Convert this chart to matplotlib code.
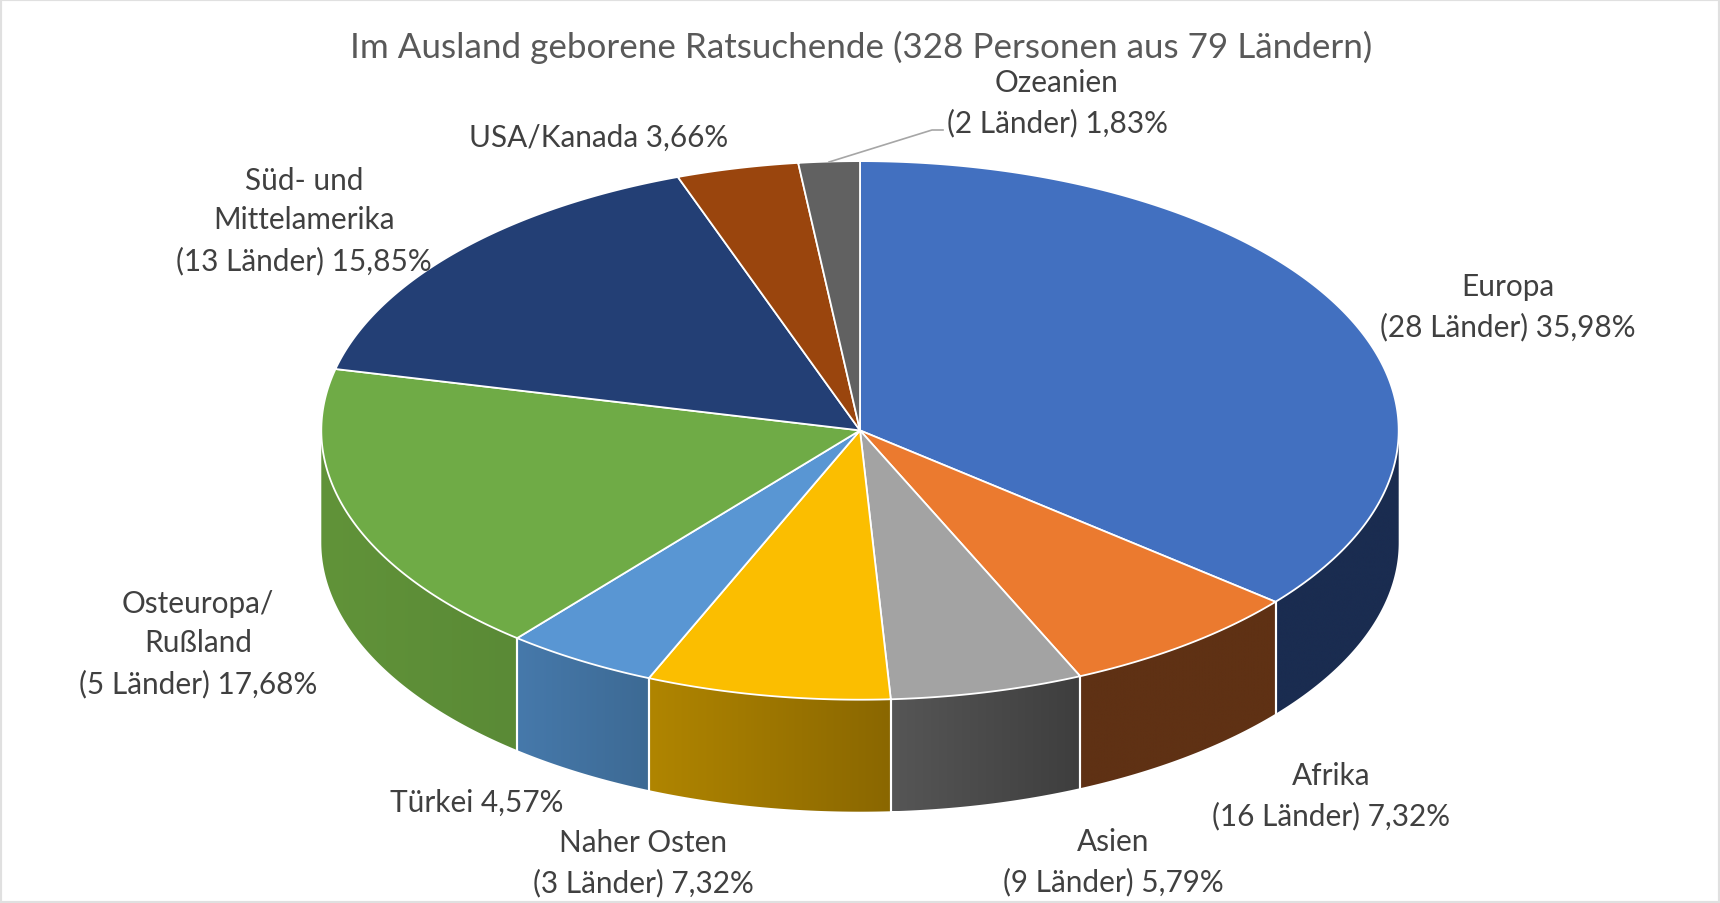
"""Im Ausland geborene Ratsuchende - Excel style 3D pie, drawn by hand in pixel space."""
import matplotlib
matplotlib.use("Agg")
import matplotlib.pyplot as plt
import numpy as np
from matplotlib.colors import LinearSegmentedColormap
from matplotlib.patches import Polygon, Rectangle

regions = ["Europa", "Afrika", "Asien", "Naher Osten", "Türkei", "Osteuropa/Rußland",
           "Süd- und Mittelamerika", "USA/Kanada", "Ozeanien"]
shares = [35.98, 7.32, 5.79, 7.32, 4.57, 17.68, 15.85, 3.66, 1.83]
labels = ["Europa\n(28 Länder) 35,98%", "Afrika\n(16 Länder) 7,32%", "Asien\n(9 Länder) 5,79%",
          "Naher Osten\n(3 Länder) 7,32%", "Türkei 4,57%", "Osteuropa/\nRußland\n(5 Länder) 17,68%",
          "Süd- und\nMittelamerika\n(13 Länder) 15,85%", "USA/Kanada 3,66%", "Ozeanien\n(2 Länder) 1,83%"]
title = "Im Ausland geborene Ratsuchende (328 Personen aus 79 Ländern)"

top_colors = ["#4270C0", "#EB7A2F", "#A3A3A3", "#FBBE00", "#5996D3", "#6FAB46",
              "#233F75", "#9A450D", "#616161"]
wall_left = ["#1A2C50", "#5F3114", "#565656", "#B08500", "#4679AB", "#619339",
             "#264478", "#9E480E", "#636363"]
wall_right = ["#1A2C50", "#5F3114", "#3E3E3E", "#8A6700", "#3D6A94", "#5A8A36",
              "#264478", "#9E480E", "#636363"]
label_xy = [(1508, 307), (1331, 796), (1113, 862), (643, 863), (477, 803),
            (198, 644), (304, 221), (599, 138), (1057, 103)]

W, H = 1720, 904
CX, CY, RX, RY, DEPTH = 860, 431.4, 538.7, 269.3, 112
TEXT = "#404040"

plt.rcParams["font.family"] = ["Lato", "DejaVu Sans"]
fig = plt.figure(figsize=(W / 100, H / 100), dpi=100)
ax = fig.add_axes([0, 0, 1, 1])


def rim(t, drop=0.0):
    return np.column_stack([CX + RX * np.sin(t), CY - RY * np.cos(t) + drop])


edges = np.radians(np.concatenate([[0], np.cumsum(shares)]) * 3.6)

# side walls first, only the front half of the cake shows
for i in range(len(shares)):
    a, b = max(edges[i], np.pi / 2), min(edges[i + 1], 3 * np.pi / 2)
    if a >= b:
        continue
    t = np.linspace(a, b, 120)
    pts = np.vstack([rim(t), rim(t[::-1], DEPTH)])
    clip = Polygon(pts, closed=True, transform=ax.transData, fc="none", ec="none")
    ax.add_patch(clip)
    cmap = LinearSegmentedColormap.from_list("w", [wall_left[i], wall_right[i]])
    x0, x1, y0, y1 = pts[:, 0].min(), pts[:, 0].max(), pts[:, 1].min(), pts[:, 1].max()
    im = ax.imshow(np.linspace(0, 1, 256)[None, :], cmap=cmap, extent=[x0, x1, y1, y0],
                   aspect="auto", zorder=2, interpolation="bilinear")
    im.set_clip_path(clip)
    # white seam between walls
    for tt in (a, b):
        if np.pi / 2 < tt < 3 * np.pi / 2:
            seam = np.vstack([rim(np.array([tt])), rim(np.array([tt]), DEPTH)])
            ax.plot(seam[:, 0], seam[:, 1], color="white", lw=1.5, zorder=3)

for i in range(len(shares)):
    t = np.linspace(edges[i], edges[i + 1], 200)
    pts = np.vstack([[CX, CY], rim(t)])
    ax.add_patch(Polygon(pts, closed=True, fc=top_colors[i], ec="white", lw=1.3,
                         joinstyle="round", zorder=4))

# leader line for Ozeanien
ax.plot([829, 932, 943], [163, 131, 131], color="#A6A6A6", lw=1.2, zorder=5)

for lab, (x, y) in zip(labels, label_xy):
    ax.text(x, y, lab, ha="center", va="center", ma="center", fontsize=21.4, color=TEXT,
            linespacing=1.5, zorder=6)

ax.text(861, 47, title, ha="center", va="center", fontsize=25.2, color="#595959", zorder=6)

ax.add_patch(Rectangle((0, 0), W, H, fc="none", ec="#E0E0E0", lw=3, zorder=7))

ax.set_xlim(0, W)
ax.set_ylim(H, 0)
ax.axis("off")
fig.savefig("out.png", dpi=100)
